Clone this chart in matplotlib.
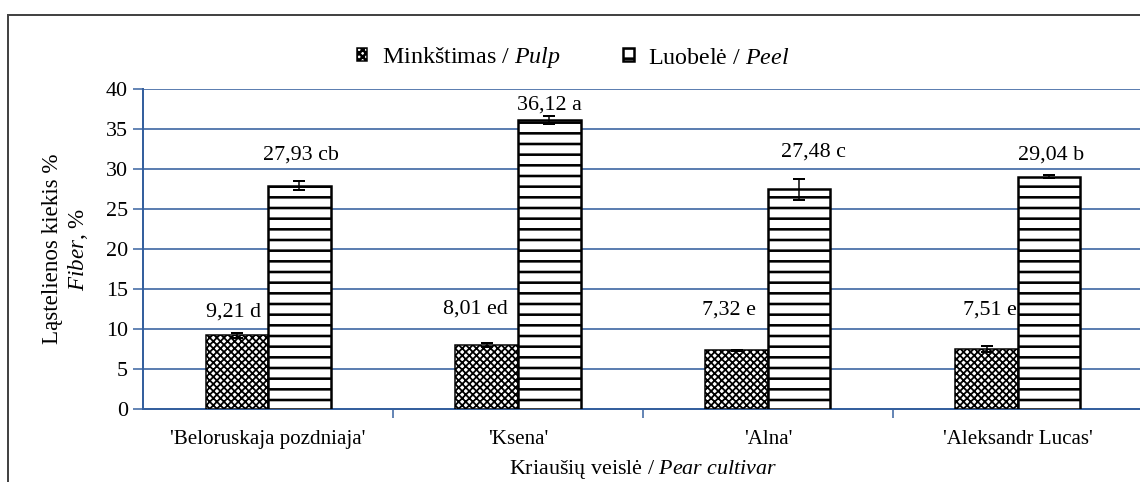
import matplotlib
matplotlib.use("Agg")
import matplotlib.pyplot as plt
from matplotlib.patches import Rectangle
import numpy as np

# Data
cultivars = ["'Beloruskaja pozdniaja'", "'Ksena'", "'Alna'", "'Aleksandr Lucas'"]
pulp = [9.21, 8.01, 7.32, 7.51]
peel = [27.93, 36.12, 27.48, 29.04]
pulp_err = [0.3, 0.25, 0.05, 0.4]
peel_err = [0.6, 0.5, 1.3, 0.2]
pulp_letters = ["d", "ed", "e", "e"]
peel_letters = ["cb", "a", "c", "b"]

# label offsets from bar top (pixels), placed by hand in the original
pulp_lbl_off = [(-3, 23), (-11, 36), (-8, 40), (3, 39)]
peel_lbl_off = [(2, 31), (0, 15), (14, 37), (2, 22)]

BLUE = "#35609E"
DPI = 64
W, H = 1140, 482

plt.rcParams["font.family"] = ["Liberation Serif", "DejaVu Serif"]
plt.rcParams["mathtext.fontset"] = "custom"
plt.rcParams["mathtext.rm"] = "Liberation Serif"
plt.rcParams["mathtext.it"] = "Liberation Serif:italic"
plt.rcParams["font.size"] = 24


def px(v):
    # pixels -> points
    return v * 72.0 / DPI


fig = plt.figure(figsize=(W / DPI, H / DPI), dpi=DPI)
ax = fig.add_axes([143 / W, 73 / H, 1000 / W, 320 / H])

x = np.arange(len(cultivars))
bw = 0.25

plt.rcParams["hatch.linewidth"] = px(1.8)
b1 = ax.bar(x - bw / 2, pulp, bw, color="white", edgecolor="black",
            hatch="xxx", linewidth=px(1.5), zorder=3,
            label="Minkštimas / $\\mathit{Pulp}$")
plt.rcParams["hatch.linewidth"] = px(2.6)
b2 = ax.bar(x + bw / 2, peel, bw, color="white", edgecolor="black",
            hatch="-", linewidth=px(2.5), zorder=3,
            label="Luobelė / $\\mathit{Peel}$")
for p in b1.patches:
    if hasattr(p, "set_hatch_linewidth"):
        p.set_hatch_linewidth(px(1.8))
for p in b2.patches:
    if hasattr(p, "set_hatch_linewidth"):
        p.set_hatch_linewidth(px(2.6))

ax.errorbar(x - bw / 2, pulp, yerr=pulp_err, fmt="none", ecolor="black",
            elinewidth=px(1.5), capsize=px(6), capthick=px(2), zorder=4)
ax.errorbar(x + bw / 2, peel, yerr=peel_err, fmt="none", ecolor="black",
            elinewidth=px(1.5), capsize=px(6), capthick=px(2), zorder=4)

for i in range(len(x)):
    ax.annotate(f"{pulp[i]:.2f}".replace(".", ",") + " " + pulp_letters[i],
                (x[i] - bw / 2, pulp[i]), xytext=pulp_lbl_off[i],
                textcoords="offset pixels", ha="center", va="center",
                fontsize=px(22), zorder=5)
    ax.annotate(f"{peel[i]:.2f}".replace(".", ",") + " " + peel_letters[i],
                (x[i] + bw / 2, peel[i]), xytext=peel_lbl_off[i],
                textcoords="offset pixels", ha="center", va="center",
                fontsize=px(22), zorder=5)

ax.set_xlim(-0.5, len(x) - 0.5)
ax.set_ylim(0, 40)
ax.set_yticks(np.arange(0, 41, 5))
ax.yaxis.grid(True, color=BLUE, linewidth=px(1.6), zorder=0)
ax.set_axisbelow(True)

ax.set_xticks(x[:-1] + 0.5)
ax.set_xticklabels([])
ax.set_xticks(x, minor=True)
ax.set_xticklabels(cultivars, minor=True, fontsize=px(21))
ax.tick_params(axis="x", which="major", length=px(9), width=px(1.5),
               color=BLUE, direction="out")
ax.tick_params(axis="x", which="minor", length=0, pad=px(21))
ax.tick_params(axis="y", length=px(10), width=px(1.5), color=BLUE,
               labelsize=px(22), pad=px(5))

for s in ["top", "right"]:
    ax.spines[s].set_visible(False)
for s in ["left", "bottom"]:
    ax.spines[s].set_color(BLUE)
    ax.spines[s].set_linewidth(px(2))

ax.set_xlabel("Kriaušių veislė / $\\mathit{Pear\\ cultivar}$", fontsize=px(22),
              labelpad=px(9))
ax.set_ylabel("Ląstelienos kiekis %\n$\\mathit{Fiber}$, %", fontsize=px(23),
              labelpad=px(16), linespacing=1.15)

leg = fig.legend(handles=[b1, b2], loc="center", bbox_to_anchor=(573 / W, 1 - 58 / H),
                 ncol=2, frameon=False, fontsize=px(24), handlelength=0.45,
                 handleheight=0.45, handletextpad=0.6, columnspacing=2.6)

# outer frame
fig.patches.append(Rectangle((8 / W, -0.5), 2.0, 1.5 - 15 / H,
                             transform=fig.transFigure, fill=False,
                             edgecolor="#444444", linewidth=px(2), zorder=0))

fig.savefig("out.png", dpi=DPI)
